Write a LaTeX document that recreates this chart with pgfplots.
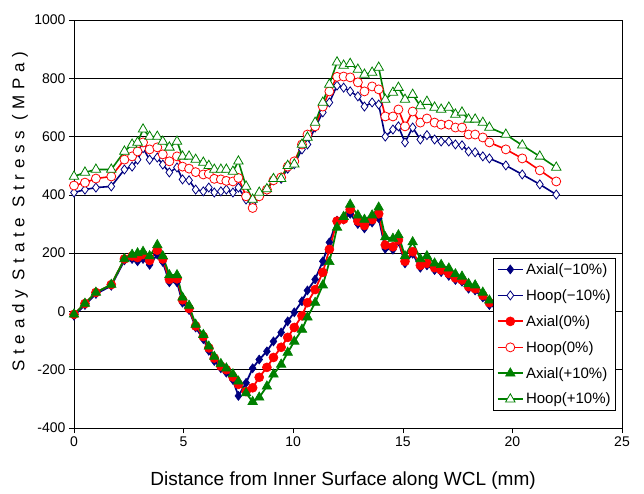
\documentclass[border=0pt]{standalone}
\usepackage{fontspec}
\setmainfont{Liberation Sans}
\usepackage{pgfplots}
\pgfplotsset{compat=1.18}
\usepackage{pgfplotstable}
\definecolor{navyb}{RGB}{0,0,128}
\definecolor{redc}{RGB}{255,0,0}
\definecolor{greenc}{RGB}{0,128,0}
\pgfplotstableread{
x      Am     Hm    A0    H0    Ap    Hp
0.0    -15    408   -10   432   -10   463
0.5    22     418   27    442   27    477
1.0    60     425   65    456   65    487
1.7    88     429   92    463   92    487
2.3    175    487   180   521   180   549
2.65   180    497   190   532   195   573
2.9    172    521   185   549   200   580
3.15   180    560   195   580   205   625
3.45   160    521   175   556   190   600
3.8    195    528   210   563   228   600
4.05   170    504   180   539   190   583
4.35   100    477   110   515   125   563
4.7    100    494   112   532   125   583
4.95   30     453   40    497   48    532
5.25   5      450   10    490   20    532
5.55   -55    418   -50   478   -45   521
5.9    -95    412   -86   470   -80   511
6.15   -135   425   -125  472   -120  500
6.4    -170   408   -160  455   -155  487
6.7    -195   412   -188  453   -180  487
6.95   -210   418   -200  448   -195  487
7.25   -235   408   -225  446   -215  480
7.5    -290   425   -250  458   -240  515
7.85   -245   384   -275  395   -280  429
8.15   -195   367   -262  355   -310  384
8.45   -165   395   -226  395   -295  408
8.8    -137   418   -192  418   -257  420
9.1    -103   450   -158  450   -216  455
9.45   -72    455   -123  460   -182  455
9.75   -34    490   -89   497   -141  500
10.05  -3     505   -55   515   -103  505
10.4   35     556   -15   573   -62   573
10.65  72     573   30    607   -20   597
11.0   110    631   75    635   30    648
11.35  172    683   134   703   90    717
11.65  237    717   213   755   170   779
12.0   312    775   310   805   288   855
12.3   315    768   316   806   325   844
12.6   335    755   350   803   367   850
12.95  300    738   310   786   330   830
13.25  285    703   295   755   315   813
13.6   305    717   315   772   330   820
13.9   320    710   335   762   357   837
14.2   215    600   228   669   255   727
14.55  212    624   222   669   250   751
14.8   240    635   245   693   262   768
15.1   165    580   172   635   190   727
15.45  198    631   205   686   238   744
15.8   150    590   158   648   180   705
16.1   158    605   165   662   190   720
16.45  142    590   150   648   165   700
16.75  135    583   142   641   160   693
17.1   122    583   130   641   148   700
17.4   108    573   115   631   128   676
17.7   102    570   108   631   120   683
18.0   78     549   85    607   95    659
18.3   72     546   78    607   90    659
18.65  48     532   55    597   65    648
18.95  22     525   30    580   38    631
19.7   0      501   5     556   10    607
20.45  -20    470   -15   525   -10   570
21.25  -40    436   -35   484   -30   532
22.0   -55    401   -50   446   -45   494
}\data
\begin{document}
\begin{tikzpicture}
\useasboundingbox (-74pt,-65pt) rectangle (570pt,428pt);
\begin{axis}[
  at={(0pt,0pt)}, anchor=south west,
  scale only axis, width=548pt, height=408pt,
  xmin=0, xmax=25, ymin=-400, ymax=1000,
  xtick={0,5,...,25}, ytick={-400,-200,...,1000},
  ymajorgrids, grid style={black, line width=0.6pt},
  tick align=outside, tick pos=left, major tick length=5pt,
  tick style={black, line width=0.6pt},
  axis line style={black, line width=0.8pt},
  /pgf/number format/assume math mode=true,
  /pgf/number format/1000 sep={},
  ticklabel style={font=\fontsize{14}{14}\selectfont},
  xlabel={Distance from Inner Surface along WCL (mm)},
  xlabel style={font=\fontsize{19}{19}\selectfont, at={(axis description cs:0.491,-0.128)}, anchor=center},
  ylabel={\addfontfeatures{LetterSpace=33}Steady State Stress (MPa)},
  ylabel style={font=\fontsize{17}{17}\selectfont, at={(axis description cs:-0.0985,0.53)}, anchor=center},
  legend style={at={(0.765,0.417)}, anchor=north west, draw=black, fill=white,
    font=\fontsize{15}{17}\selectfont, row sep=9.6pt, inner sep=3pt, line width=0.8pt},
  legend cell align=left,
  legend image code/.code={\draw[mark repeat=2,mark phase=2,#1] plot coordinates {(0cm,0cm) (0.45cm,0cm) (0.9cm,0cm)};},
]
\addplot[navyb, line width=1.8pt, mark=diamond*, mark size=4.5pt, mark options={solid, fill=navyb, line width=0.6pt}] table[x=x,y=Am] {\data};
\addlegendentry{Axial(−10\%)}
\addplot[navyb, line width=1.6pt, mark=diamond*, mark size=4.5pt, mark options={solid, fill=white, line width=0.8pt}] table[x=x,y=Hm] {\data};
\addlegendentry{Hoop(−10\%)}
\addplot[redc, line width=1.8pt, mark=*, mark size=4.5pt, mark options={solid, fill=redc, line width=0.6pt}] table[x=x,y=A0] {\data};
\addlegendentry{Axial(0\%)}
\addplot[redc, line width=1.6pt, mark=*, mark size=4.5pt, mark options={solid, fill=white, line width=0.8pt}] table[x=x,y=H0] {\data};
\addlegendentry{Hoop(0\%)}
\addplot[greenc, line width=1.8pt, mark=triangle*, mark size=5.5pt, mark options={solid, fill=greenc, line width=0.6pt}] table[x=x,y=Ap] {\data};
\addlegendentry{Axial(+10\%)}
\addplot[greenc, line width=1.6pt, mark=triangle*, mark size=5.5pt, mark options={solid, fill=white, line width=0.8pt}] table[x=x,y=Hp] {\data};
\addlegendentry{Hoop(+10\%)}
\end{axis}
\end{tikzpicture}
\end{document}
